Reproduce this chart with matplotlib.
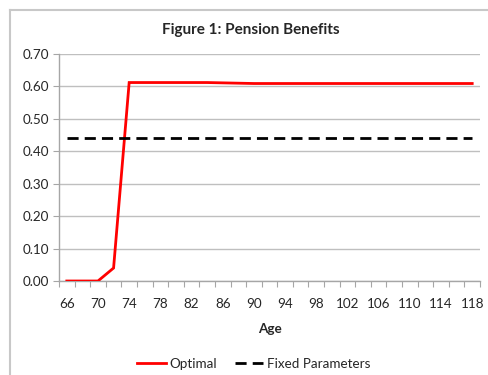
import matplotlib
matplotlib.use("Agg")
import matplotlib.pyplot as plt
from matplotlib.lines import Line2D
import numpy as np

plt.rcParams['font.family'] = ['Lato', 'DejaVu Sans']

# Age categories (every second year) and benefit series
ages = list(range(66, 119, 2))
optimal = [0.0, 0.0, 0.0, 0.04,
           0.612, 0.612, 0.612, 0.612, 0.612, 0.612, 0.611, 0.610,
           0.609, 0.609, 0.609, 0.609, 0.609, 0.609, 0.609, 0.609,
           0.609, 0.609, 0.609, 0.609, 0.609, 0.609, 0.609]
fixed = [0.44] * len(ages)
y_ticks = [0.0, 0.1, 0.2, 0.3, 0.4, 0.5, 0.6, 0.7]

W, H = 488, 375
fig = plt.figure(figsize=(W / 100, H / 100), dpi=100)
fig.patch.set_facecolor('white')

ax = fig.add_axes([59 / W, 1 - 281 / H, 421 / W, 227 / H])
x = np.arange(len(ages))

ax.plot(x, optimal, color='#ff0000', lw=2.0, solid_joinstyle='miter', zorder=3)
ax.plot(x, fixed, color='black', lw=2.0, dashes=(4, 2.2), zorder=3)

ax.set_xlim(-0.5, len(ages) - 0.5)
ax.set_ylim(0, 0.7)

axis_col = '#a6a6a6'
grid_col = '#bfbfbf'
for s in ['top', 'right']:
    ax.spines[s].set_visible(False)
for s in ['left', 'bottom']:
    ax.spines[s].set_color(axis_col)
    ax.spines[s].set_linewidth(1.0)

ax.set_yticks(y_ticks)
ax.set_yticklabels([f"{v:.2f}" for v in y_ticks])
ax.yaxis.grid(True, color=grid_col, lw=1.0)
ax.set_axisbelow(True)

# tick marks on category boundaries, labels on every other category
ax.set_xticks(np.arange(-0.5, len(ages), 1.0))
ax.set_xticklabels([])
ax.set_xticks(x[::2], minor=True)
ax.set_xticklabels([str(a) for a in ages[::2]], minor=True)
ax.tick_params(axis='x', which='major', length=4, color=axis_col, direction='out')
ax.tick_params(axis='x', which='minor', length=0, pad=12, labelsize=9.7, labelcolor='#262626')
ax.tick_params(axis='y', length=4, color=axis_col, pad=3, labelsize=9.7, labelcolor='#262626')

fig.text(251 / W, 1 - 30 / H, 'Figure 1: Pension Benefits', ha='center', va='center',
         fontsize=11, fontweight='bold', color='#262626')
fig.text(270 / W, 1 - 329 / H, 'Age', ha='center', va='center',
         fontsize=9.7, fontweight='bold', color='#262626')

handles = [Line2D([], [], color='#ff0000', lw=2.0),
           Line2D([], [], color='black', lw=2.0, dashes=(4, 2.2))]
fig.legend(handles, ['Optimal', 'Fixed Parameters'], loc='center',
           bbox_to_anchor=(254 / W, 1 - 364 / H), ncol=2, frameon=False,
           fontsize=9.7, handlelength=2.1, handletextpad=0.3, columnspacing=1.3,
           labelcolor='#262626')

# outer chart border
border_col = '#c8c8c8'
fig.add_artist(Line2D([10 / W, 10 / W], [0, 1 - 10 / H], color=border_col, lw=1.5,
                      transform=fig.transFigure))
fig.add_artist(Line2D([10 / W, 1], [1 - 10 / H, 1 - 10 / H], color=border_col, lw=1.5,
                      transform=fig.transFigure))

fig.savefig('out.png', dpi=100)
